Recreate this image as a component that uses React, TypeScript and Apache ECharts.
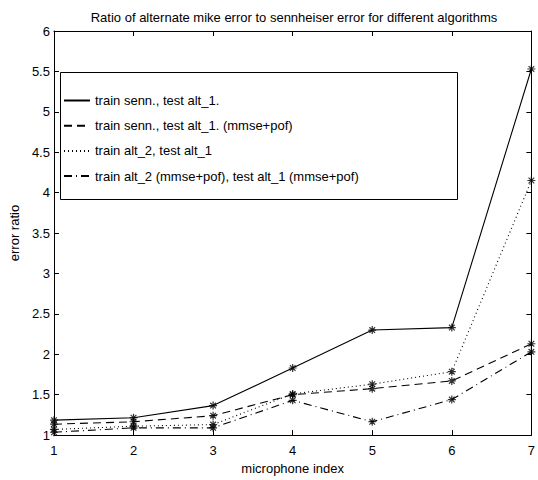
import React, { useEffect, useRef } from "react";
import * as echarts from "echarts";

const micIndex = [1, 2, 3, 4, 5, 6, 7];
const sennAlt1 = [1.185, 1.215, 1.365, 1.83, 2.3, 2.33, 5.53];
const sennAlt1Mmse = [1.135, 1.165, 1.24, 1.5, 1.575, 1.67, 2.13];
const alt2Alt1 = [1.07, 1.11, 1.13, 1.51, 1.63, 1.785, 4.15];
const alt2Alt1Mmse = [1.035, 1.09, 1.09, 1.43, 1.165, 1.44, 2.03];

const seriesNames = [
  "train senn., test alt_1.",
  "train senn., test alt_1. (mmse+pof)",
  "train alt_2, test alt_1",
  "train alt_2 (mmse+pof), test alt_1 (mmse+pof)",
];
const seriesValues = [sennAlt1, sennAlt1Mmse, alt2Alt1, alt2Alt1Mmse];
const dashes: any[] = ["solid", [8, 5], [1, 3], [8, 4, 1, 4]];

const titleText = "Ratio of alternate mike error to sennheiser error for different algorithms";
const xLabel = "microphone index";
const yLabel = "error ratio";

const FONT = "Liberation Sans, Arial, Helvetica, sans-serif";
const FS = 13;
const STAR = "path://M0,-10L0,10M-10,0L10,0M-7.07,-7.07L7.07,7.07M-7.07,7.07L7.07,-7.07";

export default function App() {
  const ref = useRef<HTMLDivElement>(null);
  useEffect(() => {
    const chart = echarts.init(ref.current!, null, { renderer: "svg" });
    const lineSeries = seriesValues.map((vals, i) => ({
      name: seriesNames[i],
      type: "line",
      xAxisIndex: 0,
      yAxisIndex: 0,
      symbol: "none",
      color: "#000",
      data: micIndex.map((m, j) => [m, vals[j]]),
      lineStyle: { color: "#000", width: 1.1, type: dashes[i] },
      z: 3,
    }));
    const markerSeries = seriesValues.map((vals, i) => ({
      name: "m" + i,
      type: "scatter",
      xAxisIndex: 0,
      yAxisIndex: 0,
      symbol: STAR,
      symbolSize: 8,
      data: micIndex.map((m, j) => [m, vals[j]]),
      itemStyle: { color: "none", borderColor: "#000", borderWidth: 1.2 },
      z: 4,
    }));
    const axisCommon = {
      type: "value",
      axisLine: { show: true, onZero: false, lineStyle: { color: "#000", width: 1 } },
      axisTick: { show: true, inside: true, length: 5, lineStyle: { color: "#000" } },
      splitLine: { show: false },
    };
    chart.setOption({
      animation: false,
      backgroundColor: "#fff",
      textStyle: { fontFamily: FONT },
      title: {
        text: titleText,
        left: 289,
        textAlign: "center",
        top: 6,
        textStyle: { fontSize: FS, fontWeight: "normal", color: "#000", fontFamily: FONT },
      },
      grid: { left: 45, right: 6, top: 31, bottom: 34, containLabel: false },
      xAxis: [
        {
          ...axisCommon,
          position: "bottom",
          min: 1,
          max: 7,
          interval: 1,
          name: xLabel,
          nameLocation: "middle",
          nameGap: 26,
          nameTextStyle: { fontSize: FS, color: "#000", fontFamily: FONT },
          axisLabel: { show: true, color: "#000", fontSize: FS, margin: 9, fontFamily: FONT },
        },
        {
          ...axisCommon,
          position: "top",
          min: 1,
          max: 7,
          interval: 1,
          axisLabel: { show: false },
        },
      ],
      yAxis: [
        {
          ...axisCommon,
          position: "left",
          min: 1,
          max: 6,
          interval: 0.5,
          name: yLabel,
          nameLocation: "middle",
          nameGap: 28,
          nameTextStyle: { fontSize: FS, color: "#000", fontFamily: FONT },
          axisLabel: { show: true, color: "#000", fontSize: FS, margin: 4, fontFamily: FONT },
        },
        {
          ...axisCommon,
          position: "right",
          min: 1,
          max: 6,
          interval: 0.5,
          axisLabel: { show: false },
        },
      ],
      legend: {
        data: seriesNames,
        orient: "vertical",
        left: 63,
        top: 94,
        itemWidth: 26,
        itemHeight: 12,
        itemGap: 12.2,
        padding: 0,
        selectedMode: false,
        itemStyle: { opacity: 0 },
        textStyle: { fontSize: FS, color: "#000", fontFamily: FONT },
        z: 10,
      },
      graphic: [
        {
          type: "rect",
          shape: { x: 60.5, y: 72.5, width: 397, height: 127 },
          style: { fill: "#fff", stroke: "#000", lineWidth: 1 },
          z: 5,
        },
      ],
      series: [...lineSeries, ...markerSeries],
    });
    return () => chart.dispose();
  }, []);
  return <div ref={ref} style={{ position: "absolute", left: 0, top: 0, width: 538, height: 480 }} />;
}
